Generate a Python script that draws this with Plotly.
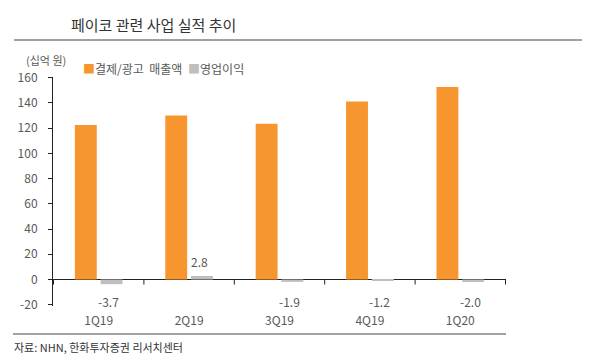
import plotly.graph_objects as go

categories = ["1Q19", "2Q19", "3Q19", "4Q19", "1Q20"]
revenue = [122.5, 130.0, 123.5, 141.0, 152.5]
op_profit = [-3.7, 2.8, -1.9, -1.2, -2.0]
y_ticks = [-20, 0, 20, 40, 60, 80, 100, 120, 140, 160]

ORANGE = "#F7962F"
GRAY = "#BFBFBF"
TXT = "#595959"
FONT = "Noto Sans CJK KR"

fig = go.Figure()
fig.add_trace(go.Bar(x=categories, y=revenue, name="결제/광고 매출액",
                     marker=dict(color=ORANGE, line=dict(width=0))))
fig.add_trace(go.Bar(x=categories, y=op_profit, name="영업이익",
                     marker=dict(color=GRAY, line=dict(width=0))))

annotations = [
    dict(text="페이코 관련 사업 실적 추이", xref="paper", yref="paper",
         x=(153 - 53) / 453, y=1 + 52/229, showarrow=False, xanchor="center", yanchor="middle",
         font=dict(family=FONT, size=15, color="#333")),
    dict(text="(십억 원)", xref="paper", yref="paper", x=(24 - 53) / 453, y=1 + 17/229,
         showarrow=False, xanchor="left", yanchor="middle",
         font=dict(family=FONT, size=11, color=TXT)),
    dict(text=f"<span style='color:{ORANGE}'>■</span>결제/광고  매출액", xref="paper", yref="paper",
         x=(81 - 53) / 453, y=1 + 9/229, showarrow=False, xanchor="left", yanchor="middle",
         font=dict(family=FONT, size=12, color=TXT)),
    dict(text=f"<span style='color:{GRAY}'>■</span>영업이익", xref="paper", yref="paper",
         x=(186 - 53) / 453, y=1 + 9/229, showarrow=False, xanchor="left", yanchor="middle",
         font=dict(family=FONT, size=12, color=TXT)),
    dict(text="자료: NHN, 한화투자증권 리서치센터", xref="paper", yref="paper",
         x=(12 - 53) / 453, y=-41/229, showarrow=False, xanchor="left", yanchor="middle",
         font=dict(family=FONT, size=11, color="#333")),
]
# value labels for operating profit
for i, v in enumerate(op_profit):
    annotations.append(dict(x=categories[i], y=(14 if v > 0 else -17.5), text=f"{v:.1f}",
                            xref="x", yref="y", showarrow=False, xshift=10,
                            font=dict(family=FONT, size=12, color=TXT)))

# category boundary ticks on zero line
shapes = []
for k in range(len(categories) + 1):
    shapes.append(dict(type="line", xref="x", yref="y", x0=k - 0.5, x1=k - 0.5,
                       y0=0, y1=-4, line=dict(color="#222", width=1)))
# title rule and bottom rule
shapes.append(dict(type="line", xref="paper", yref="paper", x0=-39/453, x1=529/453,
                   y0=1 + 37/229, y1=1 + 37/229, line=dict(color="#444", width=1.2)))
shapes.append(dict(type="line", xref="paper", yref="paper", x0=-40/453, x1=1,
                   y0=-28/229, y1=-28/229, line=dict(color="#444", width=1.2)))

fig.update_layout(
    width=600, height=363,
    margin=dict(l=53, r=94, t=77, b=57),
    paper_bgcolor="white", plot_bgcolor="white",
    barmode="group", bargap=0.43, bargroupgap=0.15,
    showlegend=False,
    shapes=shapes, annotations=annotations,
    font=dict(family=FONT, size=12, color=TXT),
)
fig.update_xaxes(showline=False, showgrid=False, ticks="", zeroline=False,
                 tickfont=dict(family=FONT, size=12, color=TXT), ticklabelstandoff=6)
fig.update_yaxes(range=[-21, 160.5], tickvals=y_ticks, ticktext=[str(t) for t in y_ticks],
                 showgrid=False,
                 showline=True, linecolor="#222", linewidth=1,
                 ticks="outside", ticklen=4, tickcolor="#222", ticklabelstandoff=8,
                 zeroline=True, zerolinecolor="#222", zerolinewidth=1,
                 tickfont=dict(family=FONT, size=12, color=TXT))

fig.write_html("out.html", config={"displayModeBar": False},
               post_script="document.body.style.margin='0';")
